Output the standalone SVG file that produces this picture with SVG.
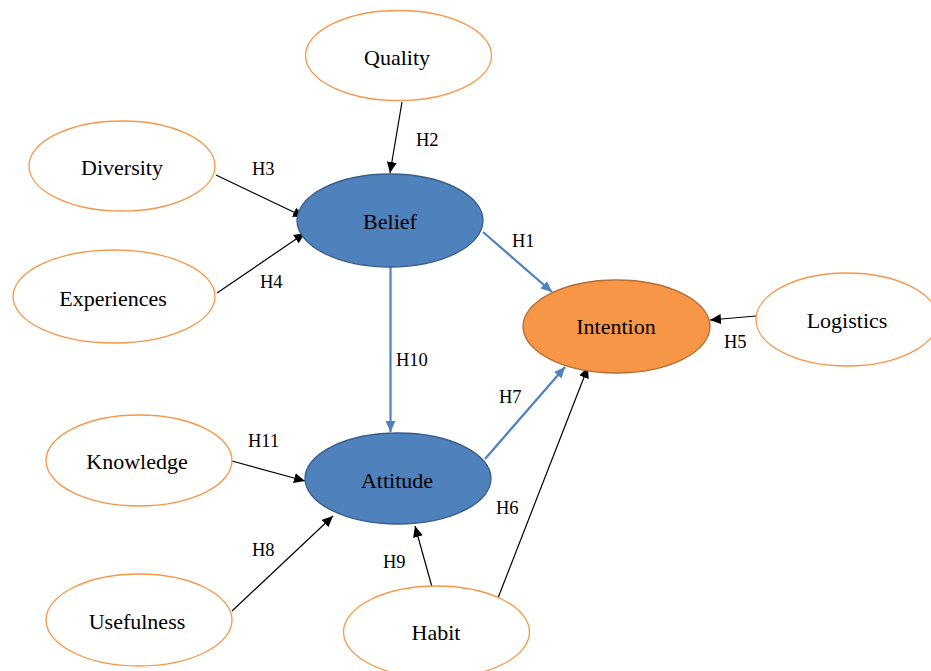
<svg xmlns="http://www.w3.org/2000/svg" width="931" height="671" viewBox="0 0 931 671" font-family="Liberation Serif, Times New Roman, serif">
<style>
.bg{fill:#ffffff}
.ext{fill:#ffffff;stroke:#F79646;stroke-width:1.3}
.blue{fill:#4F81BD;stroke:#385D8A;stroke-width:1.3}
.orange{fill:#F79646;stroke:#B66D31;stroke-width:1.3}
.nt{font-size:22px;fill:#000;text-anchor:middle;dominant-baseline:central}
.lb{font-size:18.5px;fill:#000}
.ck{stroke:#000;stroke-width:1.2;fill:none}
.cb{stroke:#4F81BD;stroke-width:2.2;fill:none}
</style>
<defs>
<marker id="ak" markerUnits="userSpaceOnUse" markerWidth="12" markerHeight="10" refX="11" refY="5" orient="auto">
<path d="M0,0 L11,5 L0,10 Z" fill="#000"/>
</marker>
<marker id="ab" markerUnits="userSpaceOnUse" markerWidth="12" markerHeight="10" refX="11" refY="5" orient="auto">
<path d="M0,0 L11,5 L0,10 Z" fill="#4F81BD"/>
</marker>
</defs>
<rect class="bg" x="0" y="0" width="931" height="671"/>
<g id="connectors">
<line class="ck" x1="402" y1="102" x2="390" y2="173" marker-end="url(#ak)"/>
<line class="ck" x1="216" y1="175" x2="304" y2="217" marker-end="url(#ak)"/>
<line class="ck" x1="217" y1="293" x2="305" y2="233" marker-end="url(#ak)"/>
<line class="cb" x1="483" y1="232" x2="552" y2="292" marker-end="url(#ab)"/>
<line class="cb" x1="390.5" y1="267" x2="390.5" y2="432" marker-end="url(#ab)"/>
<line class="ck" x1="756" y1="316" x2="710" y2="320" marker-end="url(#ak)"/>
<line class="ck" x1="232" y1="461" x2="305" y2="481" marker-end="url(#ak)"/>
<line class="ck" x1="232" y1="611" x2="333" y2="516" marker-end="url(#ak)"/>
<line class="ck" x1="432" y1="587" x2="415" y2="526" marker-end="url(#ak)"/>
<line class="ck" x1="498" y1="598" x2="588" y2="367" marker-end="url(#ak)"/>
<line class="cb" x1="485" y1="459" x2="565" y2="367" marker-end="url(#ab)"/>
<text class="lb" x="416" y="146">H2</text>
<text class="lb" x="252" y="175">H3</text>
<text class="lb" x="260" y="288">H4</text>
<text class="lb" x="512" y="247">H1</text>
<text class="lb" x="724" y="348">H5</text>
<text class="lb" x="396" y="366">H10</text>
<text class="lb" x="499" y="403">H7</text>
<text class="lb" x="248" y="447">H11</text>
<text class="lb" x="496" y="514">H6</text>
<text class="lb" x="252" y="556">H8</text>
<text class="lb" x="383" y="568">H9</text>
</g>
<g id="quality"><ellipse class="ext" cx="398.5" cy="55.5" rx="93" ry="45"/><text class="nt" x="397" y="57">Quality</text></g>
<g id="diversity"><ellipse class="ext" cx="122" cy="166" rx="93" ry="45"/><text class="nt" x="122" y="167">Diversity</text></g>
<g id="experiences"><ellipse class="ext" cx="114" cy="296.5" rx="101" ry="46.5"/><text class="nt" x="113" y="298">Experiences</text></g>
<g id="belief"><ellipse class="blue" cx="390" cy="220.5" rx="93" ry="46.5"/><text class="nt" x="390" y="221">Belief</text></g>
<g id="intention"><ellipse class="orange" cx="616.5" cy="326.5" rx="93.5" ry="46.5"/><text class="nt" x="616" y="326">Intention</text></g>
<g id="logistics"><ellipse class="ext" cx="847" cy="319.5" rx="91" ry="46.5"/><text class="nt" x="847" y="320">Logistics</text></g>
<g id="knowledge"><ellipse class="ext" cx="139" cy="460.5" rx="93" ry="45.5"/><text class="nt" x="137" y="461">Knowledge</text></g>
<g id="attitude"><ellipse class="blue" cx="398" cy="478.5" rx="93" ry="45.5"/><text class="nt" x="397" y="480">Attitude</text></g>
<g id="usefulness"><ellipse class="ext" cx="139" cy="620" rx="93" ry="46"/><text class="nt" x="137" y="621">Usefulness</text></g>
<g id="habit"><ellipse class="ext" cx="436.5" cy="632" rx="93" ry="46"/><text class="nt" x="436" y="632">Habit</text></g>
</svg>
